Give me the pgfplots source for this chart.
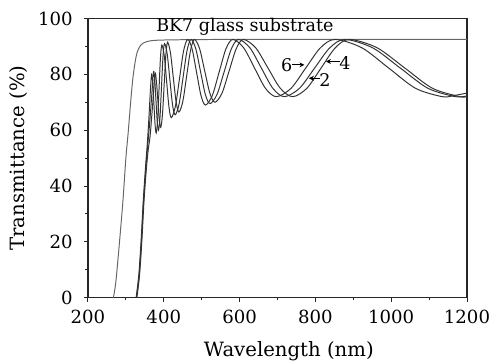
\documentclass[border=0pt]{standalone}
\usepackage{fontspec}
\setmainfont{DejaVu Serif}
\usepackage{pgfplots}
\pgfplotsset{compat=1.18}
\usetikzlibrary{arrows.meta}
\begin{document}
\begin{tikzpicture}
\begin{axis}[
  scale only axis,
  width=192.6pt, height=141.9pt,
  xmin=200, xmax=1200, ymin=0, ymax=100,
  xtick={200,400,...,1200}, ytick={0,20,...,100},
  minor x tick num=1, minor y tick num=1,
  tick align=outside,
  major tick length=2.2pt, minor tick length=1.3pt,
  xtick pos=bottom, ytick pos=left,
  axis line style={line width=0.6pt, black!85},
  every tick/.style={black!85, line width=0.5pt},
  /pgf/number format/assume math mode=true,
  tick label style={font=\fontsize{9.2}{11}\selectfont},
  /pgf/number format/1000 sep={},
  xticklabel style={yshift=-0.5pt},
  yticklabel style={xshift=-2pt},
  xlabel={Wavelength (nm)},
  ylabel={Transmittance (\%)},
  label style={font=\fontsize{10.3}{12}\selectfont},
  every axis x label/.style={at={(axis description cs:0.53,-0.19)}, anchor=center},
  every axis y label/.style={at={(axis description cs:-0.182,0.5)}, anchor=center, rotate=90},
  clip=false,
]
% BK7 substrate
\addplot[black!60, line width=0.5pt, smooth, tension=0.5] coordinates {
(267,0)(273,5)(280,15)(287,26)(293,36)(300,50)(306,59)(312,69)(318,78)(324,84)(330,88)(340,90.6)(355,91.7)(380,92.2)(450,92.4)(600,92.5)(1200,92.5)
};
% film 6
\addplot[black!80, line width=0.5pt, smooth, tension=0.5] coordinates {
(327,0)(334,8)(340,20)(346,35)(352,47)(357,56)(361,65)(365,75)(368,80)
(371,76.9)(374,69.5)(377,62.1)(380,59)(383.75,63.6)(387.5,74.75)(391.25,85.9)(395,90.5)
(401.25,86.7)(407.5,77.5)(413.75,68.3)(420,64.5)(430.75,68.6)(441.5,78.5)(452.25,88.4)(463,92.5)
(474.75,89.1)(486.5,80.75)(498.25,72.4)(510,69)(528,72.4)(546,80.75)(564,89.1)(582,92.5)
(610.75,89.5)(639.5,82.25)(668.25,75.0)(697,72)(735.75,75.0)(774.5,82.25)(813.25,89.5)(852,92.5)
(922.75,89.5)(993.5,82.25)(1064.25,75.0)(1135,72)(1165,72.4)(1200,73.3)
};
% film 2
\addplot[black!80, line width=0.5pt, smooth, tension=0.5] coordinates {
(328,0)(335,8)(341,20)(347,35)(353,47)(358,55)(363,63)(368,72)(373,81)
(376.25,77.9)(379.5,70.5)(382.75,63.1)(386,60)(390,64.5)(394,75.5)(398,86.5)(402,91)
(409,87.3)(416,78.25)(423,69.2)(430,65.5)(440.5,69.4)(451,79)(461.5,88.6)(472,92.5)
(484.5,89.1)(497,81)(509.5,72.9)(522,69.5)(540.75,72.9)(559.5,81)(578.25,89.1)(597,92.5)
(627.25,89.5)(657.5,82.25)(687.75,75.0)(718,72)(758,75.0)(798,82.25)(838,89.5)(878,92.5)
(951,89.5)(1024,82.25)(1097,75.0)(1170,72)(1200,72.3)
};
% film 4
\addplot[black!80, line width=0.5pt, smooth, tension=0.5] coordinates {
(329,0)(336,8)(342,20)(348,35)(354,46)(359,53)(364,58)(370,68)(377,80)
(380.75,77.2)(384.5,70.5)(388.25,63.8)(392,61)(396.5,65.5)(401,76.25)(405.5,87)(410,91.5)
(417.5,87.8)(425,79)(432.5,70.2)(440,66.5)(450.25,70.3)(460.5,79.5)(470.75,88.7)(481,92.5)
(494.5,89.2)(508,81.25)(521.5,73.3)(535,70)(553.75,73.3)(572.5,81.25)(591.25,89.2)(610,92.5)
(642.5,89.5)(675,82.25)(707.5,75.0)(740,72)(777.5,75.0)(815,82.25)(852.5,89.5)(890,92.5)
(963,89.5)(1036,82.25)(1109,75.0)(1182,72)(1200,72.1)
};
\node[font=\fontsize{8.9}{10}\selectfont] at (axis cs:614,97) {BK7 glass substrate};
\node[font=\fontsize{8.9}{10}\selectfont] at (axis cs:724,83.4) {6};
\draw[-{Stealth[length=2.5pt,width=2.5pt]}, line width=0.5pt] (axis cs:738,83.4) -- (axis cs:771,83.4);
\node[font=\fontsize{8.9}{10}\selectfont] at (axis cs:825,78) {2};
\draw[-{Stealth[length=2.5pt,width=2.5pt]}, line width=0.5pt] (axis cs:812,78.6) -- (axis cs:783,78.6);
\node[font=\fontsize{8.9}{10}\selectfont] at (axis cs:878,84.2) {4};
\draw[-{Stealth[length=2.5pt,width=2.5pt]}, line width=0.5pt] (axis cs:864,84.6) -- (axis cs:828,84.6);
\end{axis}
\pgfresetboundingbox
\path ([shift={(-44.7pt,-32.5pt)}]current axis.south west) rectangle ([shift={(12.7pt,9.4pt)}]current axis.north east);
\end{tikzpicture}
\end{document}
